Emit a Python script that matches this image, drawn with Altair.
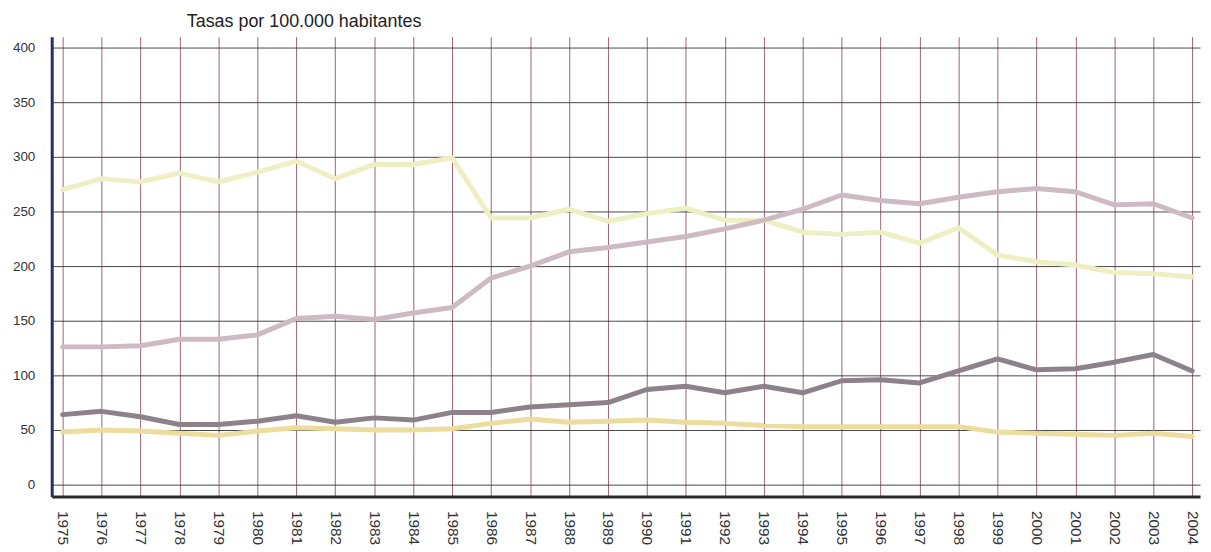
import altair as alt
import pandas as pd

years = list(range(1975, 2005))

# light yellow series (highest at start)
serie_1 = [270, 280, 277, 285, 277, 286, 296, 280, 293, 293, 299, 244, 244, 252, 241, 248,
           253, 242, 242, 231, 229, 231, 221, 235, 210, 204, 201, 194, 193, 190]
# mauve/pink series (rising)
serie_2 = [126, 126, 127, 133, 133, 137, 152, 154, 151, 157, 162, 189, 200, 213, 217, 222,
           227, 234, 242, 252, 265, 260, 257, 263, 268, 271, 268, 256, 257, 244]
# dark grey series
serie_3 = [64, 67, 62, 55, 55, 58, 63, 57, 61, 59, 66, 66, 71, 73, 75, 87,
           90, 84, 90, 84, 95, 96, 93, 104, 115, 105, 106, 112, 119, 104]
# tan series (lowest)
serie_4 = [48, 50, 49, 47, 45, 49, 52, 51, 50, 50, 51, 56, 60, 57, 58, 59,
           57, 56, 54, 53, 53, 53, 53, 53, 48, 47, 46, 45, 47, 44]

series_names = ["Serie 1", "Serie 2", "Serie 3", "Serie 4"]
series_colors = ["#eef0c4", "#cdbac3", "#8d8289", "#ecdd9e"]
y_ticks = [0, 50, 100, 150, 200, 250, 300, 350, 400]
title_text = "Tasas por 100.000 habitantes"

rows = []
for name, vals in zip(series_names, [serie_1, serie_2, serie_3, serie_4]):
    for yr, v in zip(years, vals):
        rows.append({"year": yr, "value": v, "serie": name})
df = pd.DataFrame(rows)

chart = alt.Chart(df).mark_line(strokeWidth=5, strokeJoin="round", strokeCap="round").encode(
    x=alt.X("year:Q",
            scale=alt.Scale(domain=[1974.72, 2004.2], nice=False, zero=False),
            axis=alt.Axis(values=years, format="d", labelAngle=90, title=None,
                          labelFontSize=15.5, labelColor="#333333", labelPadding=14,
                          ticks=False, domainColor="#2a2a2a", domainWidth=3,
                          grid=True, gridColor="#8a4a60", gridWidth=1, gridOpacity=0.85,
                          labelFont="Liberation Sans")),
    y=alt.Y("value:Q",
            scale=alt.Scale(domain=[-11, 410], nice=False, zero=False),
            axis=alt.Axis(values=y_ticks, title=None, labelFontSize=13.5, labelColor="#333333",
                          labelPadding=17, ticks=False, domainColor="#2b2b6b", domainWidth=3,
                          grid=True, gridColor="#333333", gridWidth=1, gridOpacity=0.9,
                          labelFont="Liberation Sans")),
    color=alt.Color("serie:N", scale=alt.Scale(domain=series_names, range=series_colors), legend=None),
).properties(
    width=1156,
    height=463,
    title=alt.Title(title_text, anchor="start", frame="group", dx=136, offset=6,
                    fontSize=18, fontWeight="normal", color="#222222", font="Liberation Sans"),
    autosize=alt.AutoSizeParams(type="none"),
    padding={"left": 44, "top": 27, "right": 3, "bottom": 54},
).configure_view(stroke=None)

chart.save("out.html", embed_options={"renderer": "svg", "actions": False})
